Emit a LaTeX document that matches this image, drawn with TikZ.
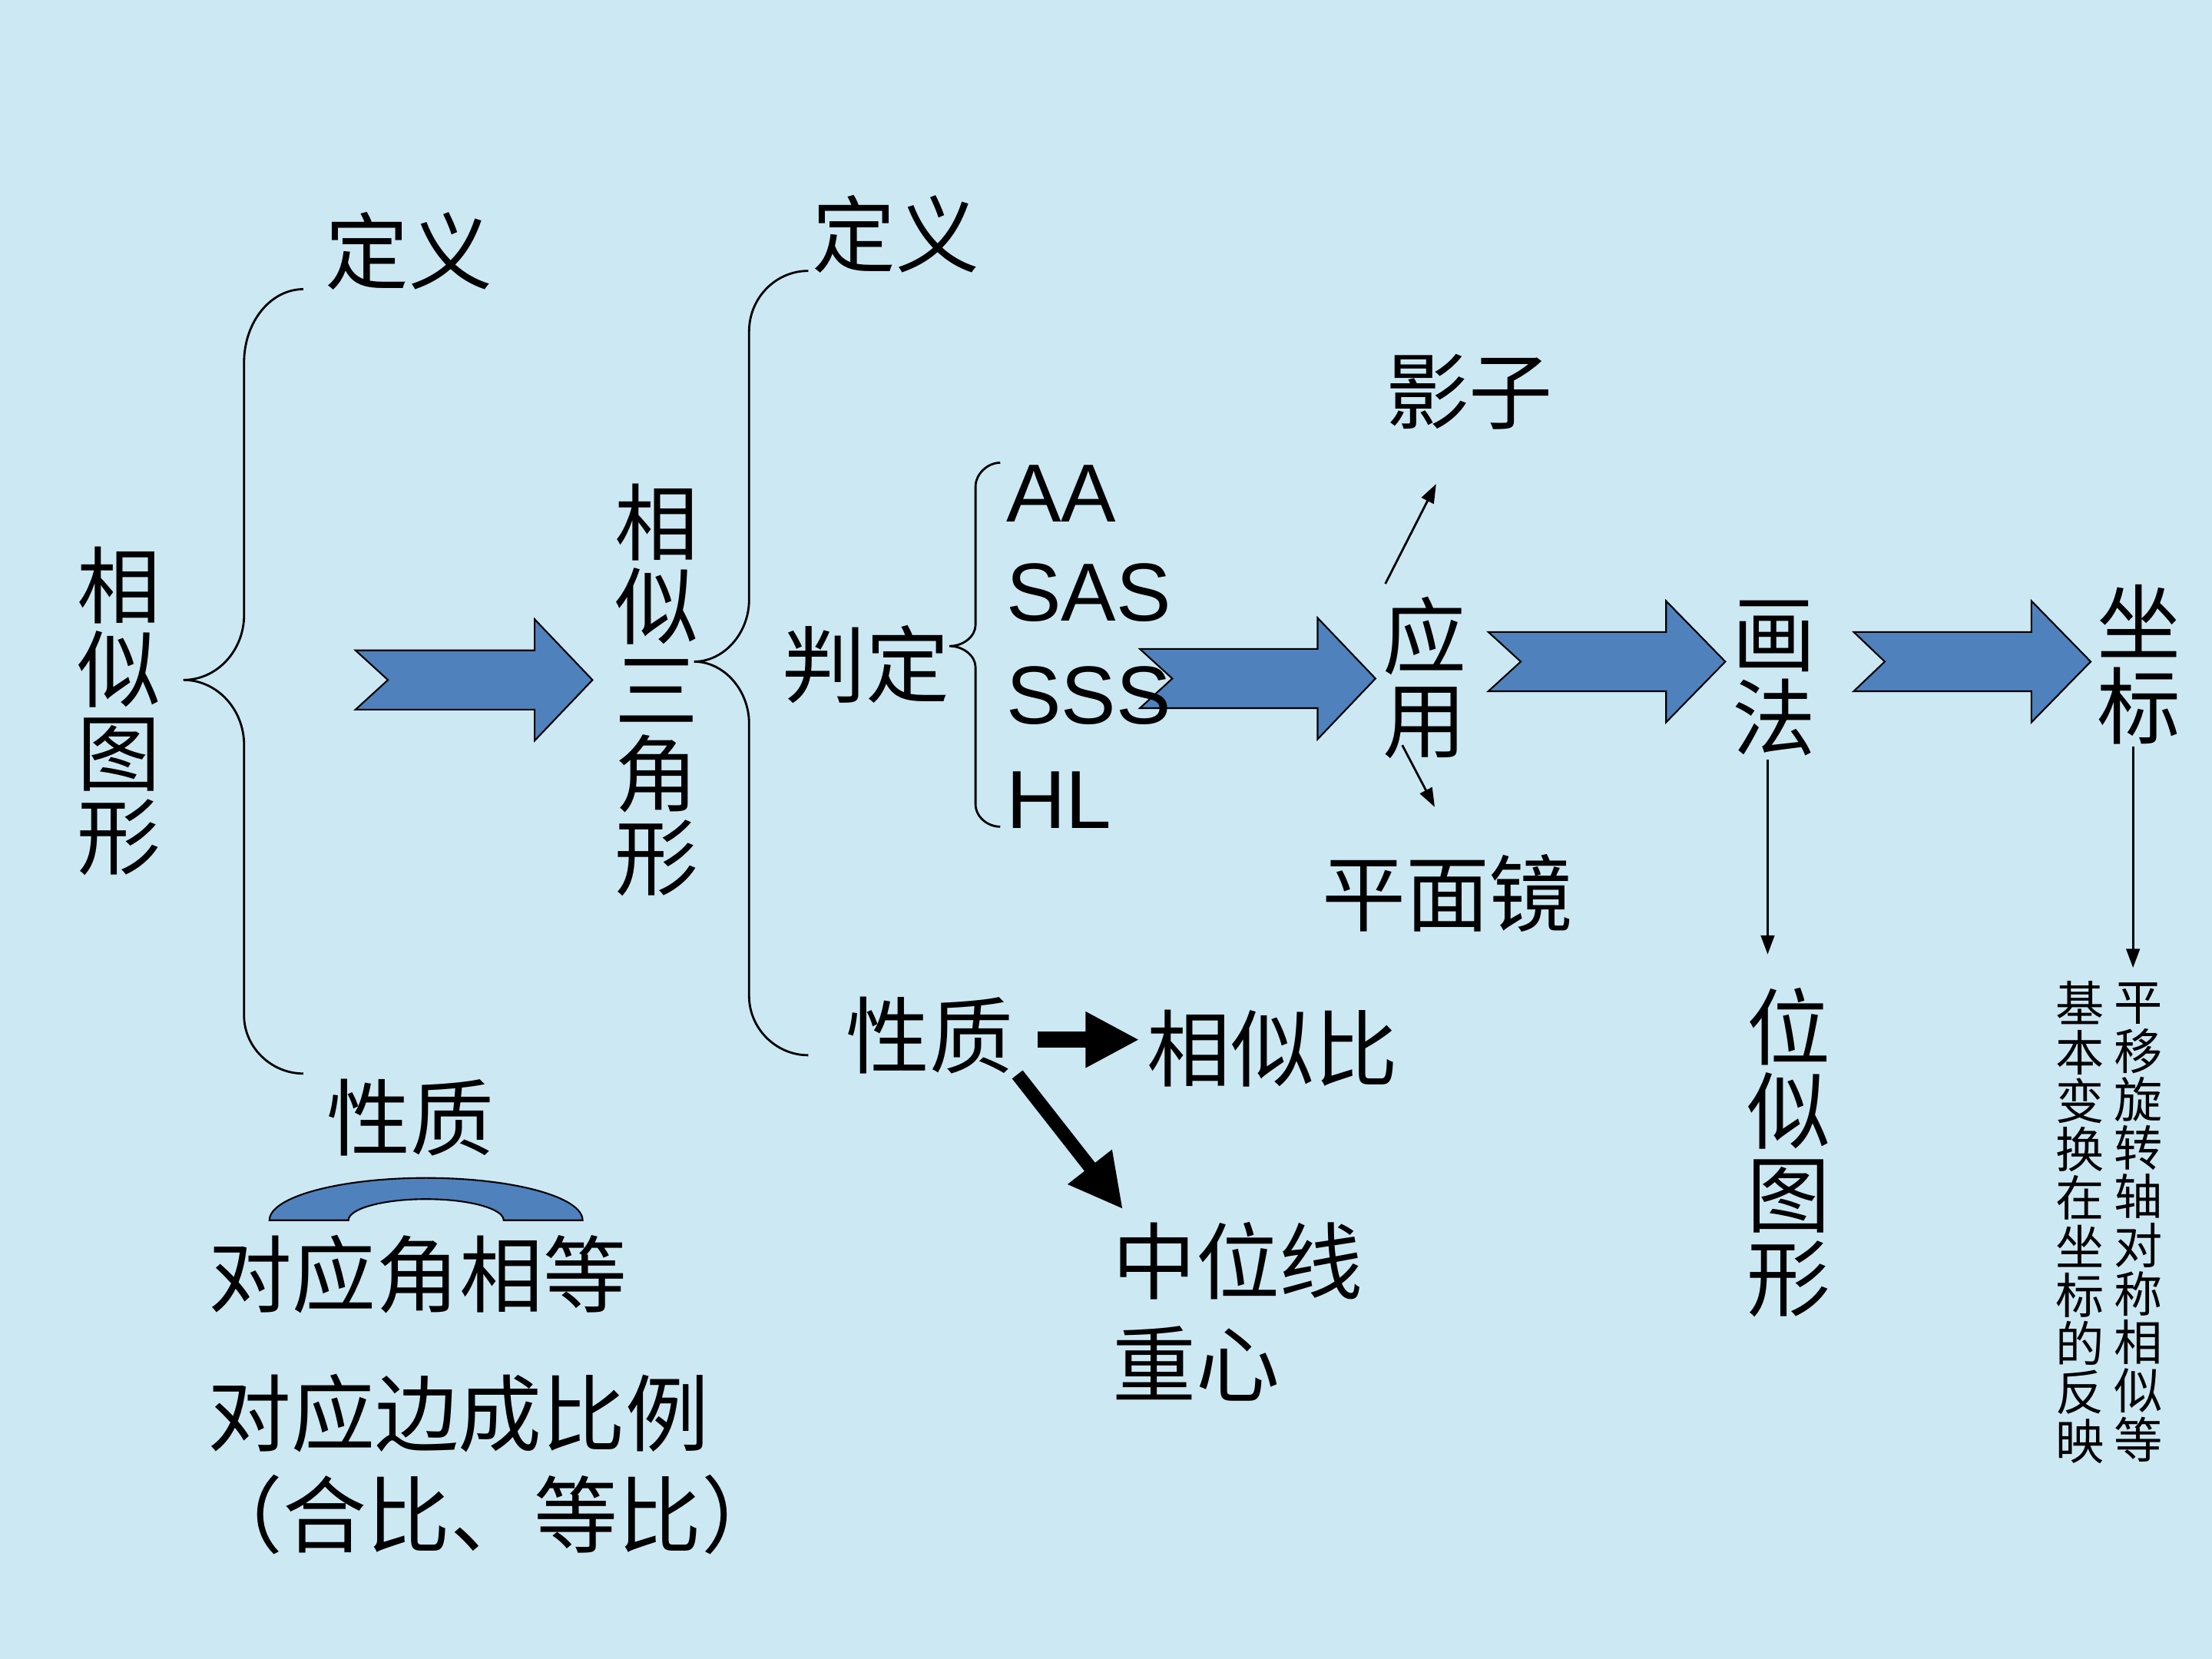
\documentclass[tikz,border=0pt]{standalone}
\usepackage{fontspec}
\newfontfamily\cjkfont{Noto Sans CJK SC}
\newfontfamily\latinfont{Liberation Sans}
\usetikzlibrary{arrows.meta,calc}
\definecolor{slidebg}{RGB}{204,232,243}
\definecolor{arrowblue}{RGB}{79,129,189}
\tikzset{
  bigtxt/.style={font=\cjkfont\fontsize{31}{31}\selectfont, inner sep=0pt, align=center},
  smalltxt/.style={font=\cjkfont\fontsize{18}{18}\selectfont, inner sep=0pt, align=center},
  abbr/.style={font=\latinfont\fontsize{30.5}{30.5}\selectfont, inner sep=0pt, anchor=base west},
  bluearrow/.style={fill=arrowblue, draw=black, line width=0.6pt},
  brace/.style={line width=0.8pt},
  thinarrow/.style={-{Triangle[length=7pt,width=5pt]}, line width=0.8pt},
  fatarrow/.style={-{Triangle[length=0.7cm,width=0.68cm]}, line width=6pt},
}

\begin{document}
\begin{tikzpicture}[x=0.018367cm, y=-0.018367cm]
\useasboundingbox (0,0) rectangle (1568,1176);
\fill[slidebg] (0,0) rectangle (1568,1176);
% block arrows
\draw[bluearrow] (252,461) -- (379,461) -- (379,439) -- (420,482) -- (379,525) -- (379,503) -- (252,503) -- (275,482) -- cycle; % arrow.1
\draw[bluearrow] (808,460) -- (934,460) -- (934,438) -- (975,481) -- (934,524) -- (934,502) -- (808,502) -- (831,481) -- cycle; % arrow.2
\draw[bluearrow] (1055,448) -- (1181,448) -- (1181,426) -- (1223,469) -- (1181,512) -- (1181,490) -- (1055,490) -- (1078,469) -- cycle; % arrow.3
\draw[bluearrow] (1314,448) -- (1440,448) -- (1440,426) -- (1482,469) -- (1440,512) -- (1440,490) -- (1314,490) -- (1336,469) -- cycle; % arrow.4
\draw[bluearrow] (191,865) arc[start angle=180, end angle=360, x radius=111, y radius=30] -- (357,865) arc[start angle=360, end angle=180, x radius=55, y radius=15] -- cycle; % arc

% left part
\node[bigtxt] (xstx) at (84.5,504) {相\\似\\图\\形};
\node[bigtxt] (dingyi1) at (290,178) {定义};
\node[bigtxt] (xingzhi1) at (291,792) {性质};
\node[bigtxt] (jiao) at (296,903.5) {对应角相等};
\node[bigtxt] (bian) at (325,1002) {对应边成比例};
\node[bigtxt] (hebi) at (349,1073.5) {（合比、等比）};

% triangle part
\node[bigtxt] (xssjx) at (465.5,489) {相\\似\\三\\角\\形};
\node[bigtxt] (dingyi2) at (635,166) {定义};
\node[bigtxt] (panding) at (614,471) {判定};
\node[abbr] (aa) at (713,370) {AA};
\node[abbr] (sas) at (713,440) {SAS};
\node[abbr] (sss) at (713,513) {SSS};
\node[abbr] (hl) at (713,587) {HL};
\node[bigtxt] (xingzhi2) at (659,734) {性质};
\node[bigtxt] (xsb) at (902,743) {相似比};
\node[bigtxt, anchor=west] (zwx) at (788,894) {中位线};
\node[bigtxt, anchor=west] (zhongxin) at (788,966.6) {重心};

% right part
\node[bigtxt] (yingyong) at (1010,480.5) {应\\用};
\node[bigtxt] (yingzi) at (1041.5,278) {影子};
\node[bigtxt] (pmj) at (1026,633) {平面镜};
\node[bigtxt] (huafa) at (1257.5,481) {画\\法};
\node[bigtxt] (wstx) at (1268,817) {位\\似\\图\\形};
\node[bigtxt] (zuobiao) at (1516,471) {坐\\标};
\node[smalltxt] (colR) at (1516,866.5) {平\\移\\旋\\转\\轴\\对\\称\\相\\似\\等};
\node[smalltxt] (colL) at (1474.5,866.5) {基\\本\\变\\换\\在\\坐\\标\\的\\反\\映};

% braces
\draw[brace] (215,205) .. controls (192,205) and (173,228) .. (173,257) -- (173,436) .. controls (173,461) and (154,482) .. (130,482) .. controls (154,482) and (173,503) .. (173,528) -- (173,720) .. controls (173,742) and (192,761) .. (215,761);
\draw[brace] (573,192) .. controls (550,192) and (531,211) .. (531,235) -- (531,425) .. controls (531,449) and (513,469) .. (492,469) .. controls (513,469) and (531,489) .. (531,513) -- (531,706) .. controls (531,729) and (550,748) .. (573,748);
\draw[brace] (709,328) .. controls (700,328) and (691.5,336) .. (691.5,345) -- (691.5,443) .. controls (691.5,451) and (683,458) .. (673,458) .. controls (683,458) and (691.5,465) .. (691.5,473) -- (691.5,570) .. controls (691.5,579) and (700,586) .. (709,586);

% connectors
\draw[thinarrow] ($(yingyong.north)+(-28,-9)$) -- ($(yingzi.south)+(-23.5,38)$);
\draw[thinarrow] ($(yingyong.south)+(-16,-10)$) -- ($(pmj.north)+(-9,-33)$);
\draw[thinarrow] ($(huafa.south)+(-4.5,2)$) -- ($(wstx.north)+(-15,-23.5)$);
\draw[thinarrow] ($(zuobiao.south)+(-4,1)$) -- ($(colR.north)+(-4,-10.5)$);
\draw[fatarrow] ($(xingzhi2.east)+(17,3)$) -- ($(xsb.west)+(-5,-6)$);
\draw[fatarrow, line width=5pt] ($(xingzhi2.south east)+(2.5,0)$) -- ($(zwx.north west)+(8,-9)$);
\end{tikzpicture}
\end{document}
